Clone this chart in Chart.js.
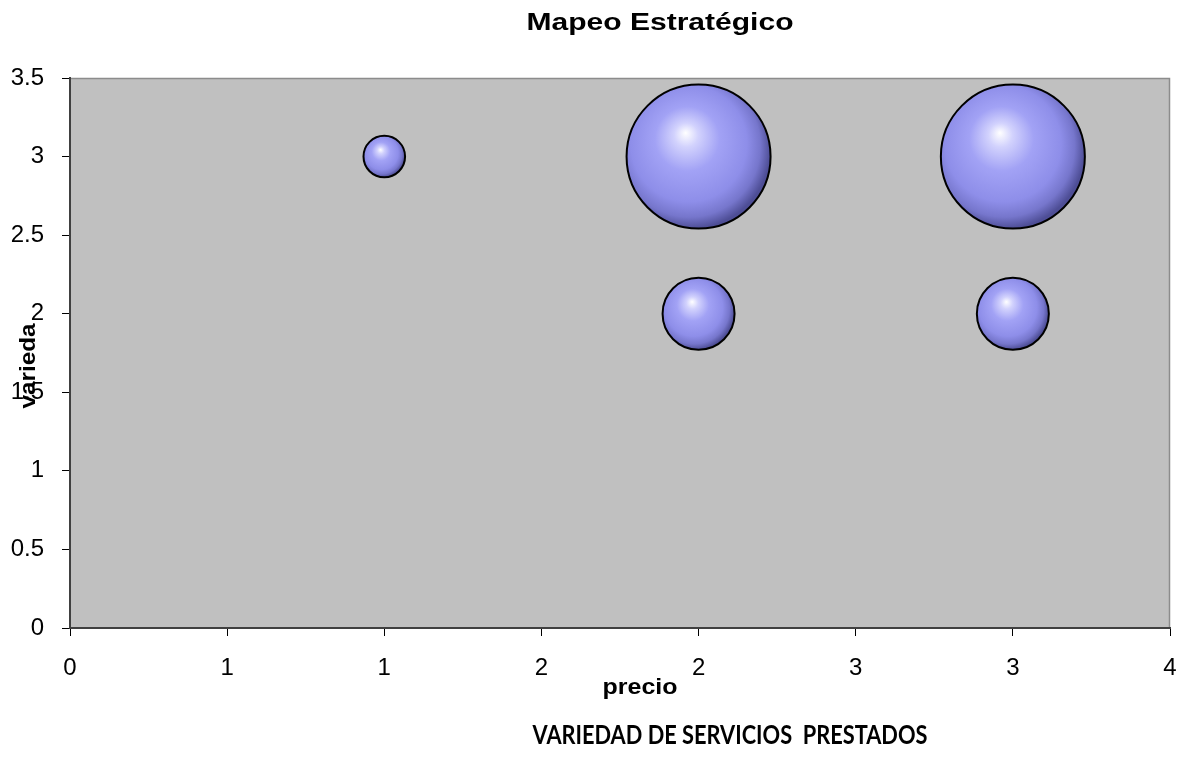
<!DOCTYPE html>
<html>
<head>
<meta charset="utf-8">
<title>Mapeo Estratégico</title>
<script src="https://cdn.jsdelivr.net/npm/chart.js@4"></script>
<style>
  html, body { margin: 0; padding: 0; background: #fff; }
  #wrap { width: 1186px; height: 763px; position: relative; }
</style>
</head>
<body>
<div id="wrap"><canvas id="mapeo"></canvas></div>
<script>
// precio (x), variedad (y) and bubble size for each point
const precio = [1, 2, 3, 2, 3];
const variedad = [3, 3, 3, 2, 2];
const tamano = [1, 12, 12, 3, 3];

const xTicks = [0, 0.5, 1, 1.5, 2, 2.5, 3, 3.5];
const yTicks = [0, 0.5, 1, 1.5, 2, 2.5, 3, 3.5];

const MAX_RADIUS = 72; // radius of the largest bubble, px
const maxSize = Math.max(...tamano);

const puntos = precio.map((p, i) => ({
    x: p,
    y: variedad[i],
    r: MAX_RADIUS * Math.sqrt(tamano[i] / maxSize)
}));

// shaded sphere fill for each bubble
function sphereFill(context) {
    const plain = '#9a9af2';
    if (context.type !== 'data') return plain;
    const chart = context.chart;
    const cx = chart.scales.x.getPixelForValue(context.raw.x);
    const cy = chart.scales.y.getPixelForValue(context.raw.y);
    const r = context.raw.r;
    if (!isFinite(cx) || !isFinite(cy) || !isFinite(r)) return plain;
    const g = chart.ctx.createRadialGradient(cx - r * 0.18, cy - r * 0.33, 0, cx - r * 0.12, cy - r * 0.12, r * 1.12);
    g.addColorStop(0, '#ffffff');
    g.addColorStop(0.15, '#d2d2fd');
    g.addColorStop(0.4, '#a2a2f5');
    g.addColorStop(0.72, '#8e8ee9');
    g.addColorStop(0.88, '#7676cc');
    g.addColorStop(1, '#4e4e96');
    return g;
}

function drawStretched(ctx, text, font, x, y, width, angle) {
    ctx.save();
    ctx.translate(x, y);
    ctx.rotate(angle || 0);
    ctx.font = font;
    const w = ctx.measureText(text).width;
    ctx.scale(width / w, 1);
    ctx.textAlign = 'center';
    ctx.textBaseline = 'alphabetic';
    ctx.fillStyle = '#000';
    ctx.fillText(text, 0, 0);
    ctx.restore();
}

const plotBackground = {
    id: 'plotBackground',
    beforeDraw(chart) {
        const { ctx, chartArea: a } = chart;
        ctx.save();
        ctx.fillStyle = '#fff';
        ctx.fillRect(0, 0, chart.width, chart.height);
        ctx.fillStyle = '#c0c0c0';
        ctx.fillRect(a.left, a.top, a.right - a.left, a.bottom - a.top);
        ctx.strokeStyle = '#8c8c8c';
        ctx.lineWidth = 1.5;
        ctx.beginPath();
        ctx.moveTo(a.left, a.top + 0.5);
        ctx.lineTo(a.right - 0.5, a.top + 0.5);
        ctx.lineTo(a.right - 0.5, a.bottom);
        ctx.stroke();
        ctx.restore();
    }
};

const chartTexts = {
    id: 'chartTexts',
    afterDraw(chart) {
        const ctx = chart.ctx;
        drawStretched(ctx, 'Mapeo Estratégico', 'bold 23px "Liberation Sans", Arial, sans-serif', 660, 30, 267);
        drawStretched(ctx, 'precio', 'bold 22px "Liberation Sans", Arial, sans-serif', 640, 694, 75);
        drawStretched(ctx, 'varieda', 'bold 22px "Liberation Sans", Arial, sans-serif', 35, 366, 85, -Math.PI / 2);
        drawStretched(ctx, 'VARIEDAD DE SERVICIOS  PRESTADOS', 'bold 26px Lato, "Open Sans", sans-serif', 730, 744, 395);
    }
};

const tickFont = { family: '"Liberation Sans", Arial, sans-serif', size: 24 };

new Chart(document.getElementById('mapeo'), {
    type: 'bubble',
    data: {
        datasets: [{
            label: 'Mapeo',
            data: puntos,
            backgroundColor: sphereFill,
            borderColor: '#000',
            borderWidth: 2,
            hoverBorderWidth: 2
        }]
    },
    options: {
        responsive: true,
        maintainAspectRatio: false,
        animation: false,
        layout: { autoPadding: false, padding: { top: 78, right: 16, bottom: 0, left: 0 } },
        plugins: {
            legend: { display: false },
            title: { display: false },
            tooltip: { enabled: false }
        },
        scales: {
            x: {
                type: 'linear',
                min: 0,
                max: 3.5,
                afterBuildTicks: scale => { scale.ticks = xTicks.map(v => ({ value: v })); },
                afterFit: scale => {
                    scale.height = 135;
                    scale.paddingLeft = 0;
                    scale.paddingRight = 0;
                },
                ticks: {
                    font: tickFont,
                    color: '#000',
                    padding: 18,
                    maxRotation: 0,
                    callback: v => String(Math.round(v))
                },
                grid: { drawOnChartArea: false, tickLength: 8, color: '#000', lineWidth: 1 },
                border: { color: '#404040', width: 2 }
            },
            y: {
                type: 'linear',
                min: 0,
                max: 3.5,
                afterBuildTicks: scale => { scale.ticks = yTicks.map(v => ({ value: v })); },
                afterFit: scale => {
                    scale.width = 70;
                    scale.paddingTop = 0;
                    scale.paddingBottom = 0;
                },
                ticks: {
                    font: tickFont,
                    color: '#000',
                    padding: 18,
                    callback: v => String(v)
                },
                grid: { drawOnChartArea: false, tickLength: 8, color: '#000', lineWidth: 1 },
                border: { color: '#404040', width: 2 }
            }
        }
    },
    plugins: [plotBackground, chartTexts]
});
</script>
</body>
</html>
